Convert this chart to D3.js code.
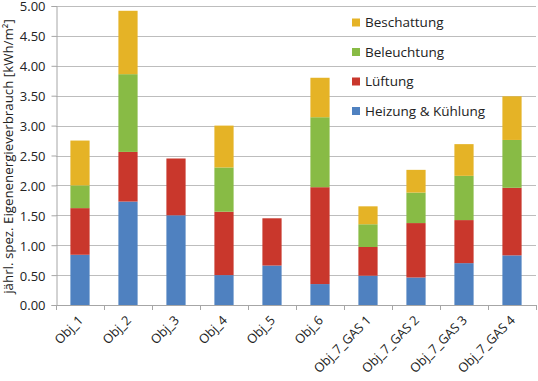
<!DOCTYPE html>
<html><head><meta charset="utf-8">
<script src="https://cdn.jsdelivr.net/npm/d3@7"></script>
<style>body{margin:0;background:#fff}svg{display:block}text{font-family:"Open Sans","Liberation Sans",sans-serif;fill:#222}</style>
</head><body><svg id="c" width="538" height="381"></svg>
<script>
const categories = ["Obj_1","Obj_2","Obj_3","Obj_4","Obj_5","Obj_6","Obj_7_GAS 1","Obj_7_GAS 2","Obj_7_GAS 3","Obj_7_GAS 4"];
const heizung     = [0.84,1.73,1.50,0.50,0.66,0.35,0.49,0.46,0.70,0.83];
const lueftung    = [0.78,0.83,0.95,1.06,0.79,1.62,0.48,0.91,0.72,1.13];
const beleuchtung = [0.38,1.30,0.00,0.74,0.00,1.17,0.38,0.51,0.74,0.80];
const beschattung = [0.75,1.06,0.00,0.70,0.00,0.66,0.30,0.38,0.53,0.73];
const seriesNames = ["Heizung & Kühlung","Lüftung","Beleuchtung","Beschattung"];
const seriesColors = ["#4f81c0","#c9372c","#88bb45","#e5b326"];
const yTicks = [0,0.5,1,1.5,2,2.5,3,3.5,4,4.5,5];
const yLabel = "jährl. spez. Eigenenergieverbrauch [kWh/m²]";

const svg = d3.select("#c");
const m = {l:56, r:2, t:6, b:76};
const W = 538, H = 381;
const x = d3.scaleBand().domain(categories).range([m.l, W - m.r]).paddingInner(0.6).paddingOuter(0.3);
const y = d3.scaleLinear().domain([0,5]).range([H - m.b, m.t]);

// gridlines
svg.append("g").selectAll("line").data(yTicks.slice(1)).join("line")
  .attr("x1", m.l).attr("x2", W - m.r)
  .attr("y1", d => Math.round(y(d)) + 0.5).attr("y2", d => Math.round(y(d)) + 0.5)
  .attr("stroke", "#bdbdbd").attr("stroke-width", 1);

// stacked data
const rows = categories.map((c,i) => ({cat:c, s0:heizung[i], s1:lueftung[i], s2:beleuchtung[i], s3:beschattung[i]}));
const stack = d3.stack().keys(["s0","s1","s2","s3"]);
const layers = stack(rows);
svg.append("g").selectAll("g").data(layers).join("g")
  .attr("fill", (d,i) => seriesColors[i])
  .selectAll("rect").data(d => d.filter(p => p[1] - p[0] > 0)).join("rect")
  .attr("x", d => x(d.data.cat)).attr("width", x.bandwidth())
  .attr("y", d => y(d[1])).attr("height", d => y(d[0]) - y(d[1]));

// y axis
const yAxis = d3.axisLeft(y).tickValues(yTicks).tickFormat(d3.format(".2f")).tickSize(5).tickPadding(6);
const gy = svg.append("g").attr("transform", `translate(${m.l + 0.5},0)`).call(yAxis);
gy.select(".domain").attr("stroke", "#a6a6a6");
gy.selectAll(".tick line").attr("stroke", "#a6a6a6");
gy.selectAll("text").attr("font-size", 13).attr("dy", "0.38em").style("font-family", '"Open Sans","Liberation Sans",sans-serif').attr("fill", "#222");

// x axis
const bounds = d3.range(categories.length + 1).map(i => m.l + i * (W - m.r - m.l) / categories.length);
const gx = svg.append("g");
gx.append("line").attr("x1", m.l).attr("x2", W - m.r).attr("y1", y(0) + 0.5).attr("y2", y(0) + 0.5).attr("stroke", "#a6a6a6");
gx.selectAll("line.t").data(bounds).join("line").attr("class","t")
  .attr("x1", d => Math.round(d) + 0.5).attr("x2", d => Math.round(d) + 0.5)
  .attr("y1", y(0)).attr("y2", y(0) + 5).attr("stroke", "#a6a6a6");
gx.selectAll("text").data(categories).join("text")
  .attr("transform", d => `translate(${x(d) + x.bandwidth()/2 + 4},${y(0) + 16}) rotate(-45)`)
  .attr("text-anchor", "end").attr("font-size", 12.8).text(d => d);

// y label
svg.append("text").attr("transform", `translate(13,${(m.t + y(0))/2 + 1}) rotate(-90)`)
  .attr("text-anchor", "middle").attr("font-size", 13.3).text(yLabel);

// legend
const legOrder = [3,2,1,0];
const lg = svg.append("g").selectAll("g").data(legOrder).join("g")
  .attr("transform", (d,i) => `translate(352,${22.5 + i * 29.5})`);
lg.append("rect").attr("x", 0).attr("y", -4).attr("width", 8).attr("height", 8).attr("fill", d => seriesColors[d]);
lg.append("text").attr("x", 13).attr("y", 0).attr("dy", "0.35em").attr("font-size", 13.5).text(d => seriesNames[d]);
</script></body></html>
